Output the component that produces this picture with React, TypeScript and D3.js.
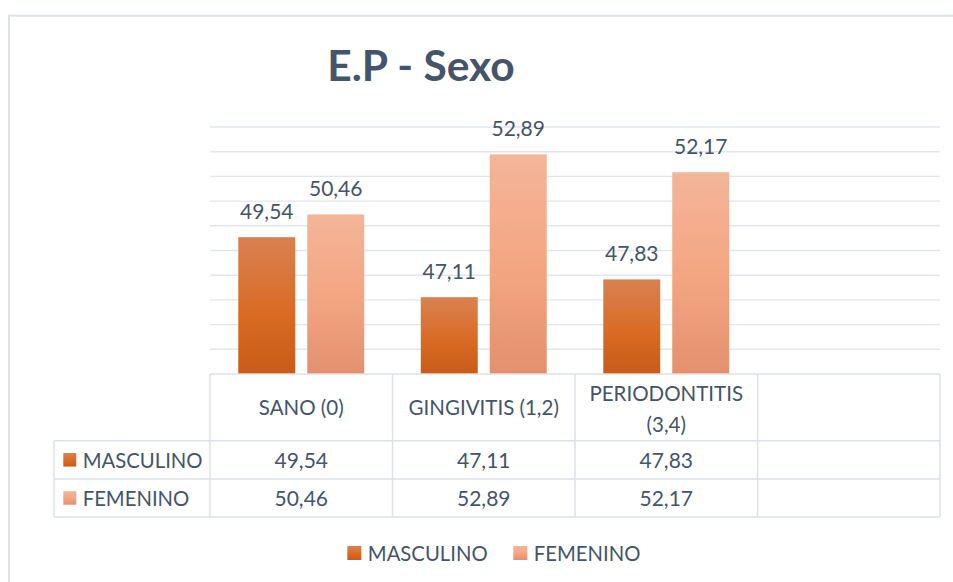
import React from "react";
import * as d3 from "d3";

const categories = ["SANO (0)", "GINGIVITIS (1,2)", "PERIODONTITIS (3,4)", ""];
const headerLines = [["SANO (0)"], ["GINGIVITIS (1,2)"], ["PERIODONTITIS", "(3,4)"], []];
const seriesNames = ["MASCULINO", "FEMENINO"];
const masculino = [49.54, 47.11, 47.83];
const femenino = [50.46, 52.89, 52.17];
const yTicks = [45, 46, 47, 48, 49, 50, 51, 52, 53, 54];

const W = 953;
const H = 582;
const TEXT = "#44546A";
const LINE = "#DDE2E9";
const FONT = "Lato, 'Open Sans', sans-serif";

const fmt = (v: number) => v.toFixed(2).replace(".", ",");

export default function App() {
  const left = 210;
  const right = 940;
  const top = 127;
  const bottom = 374;

  const x0 = d3.scaleBand<string>().domain(categories).range([left, right]).padding(0);
  const x1 = d3
    .scaleBand<string>()
    .domain(seriesNames)
    .range([0, x0.bandwidth()])
    .paddingInner(0.174)
    .paddingOuter(0.41);
  const y = d3.scaleLinear().domain([44, 54]).range([bottom, top]);

  const series = [
    { name: seriesNames[0], values: masculino, grad: "gM" },
    { name: seriesNames[1], values: femenino, grad: "gF" },
  ];

  const tableTop = bottom;
  const headerBottom = 440.7;
  const row1Bottom = 479;
  const row2Bottom = 517;
  const tableLeft = 54;
  const rowBottoms = [row1Bottom, row2Bottom];
  const rowTops = [headerBottom, row1Bottom];

  return (
    <div style={{ position: "fixed", left: 0, top: 0, width: W, height: H, background: "#fff" }}>
      <svg width={W} height={H} style={{ display: "block" }} fontFamily={FONT}>
        <defs>
          <linearGradient id="gM" x1="0" y1="0" x2="0" y2="1">
            <stop offset="0%" stopColor="#D98152" />
            <stop offset="55%" stopColor="#D96B24" />
            <stop offset="100%" stopColor="#C85B17" />
          </linearGradient>
          <linearGradient id="gF" x1="0" y1="0" x2="0" y2="1">
            <stop offset="0%" stopColor="#F4B599" />
            <stop offset="50%" stopColor="#F4A683" />
            <stop offset="100%" stopColor="#E3906F" />
          </linearGradient>
        </defs>
        <rect x={0} y={0} width={W} height={H} fill="#fff" />
        <rect x={9} y={15.7} width={W + 20} height={H + 20} fill="#fff" stroke={LINE} strokeWidth={2} />

        <text x={421} y={81} textAnchor="middle" fontSize={42.5} fontWeight={700} fill={TEXT}>
          E.P - Sexo
        </text>

        {yTicks.map((t) => (
          <line key={t} x1={left} x2={right} y1={y(t)} y2={y(t)} stroke="#E2E6EC" strokeWidth={1.4} />
        ))}

        {series.map((s) =>
          s.values.map((v, i) => {
            const cx = (x0(categories[i]) as number) + (x1(s.name) as number);
            const bw = x1.bandwidth();
            return (
              <g key={s.name + i}>
                <rect x={cx} y={y(v)} width={bw} height={y(44) - y(v)} fill={`url(#${s.grad})`} />
                <text x={cx + bw / 2} y={y(v) - 18} textAnchor="middle" fontSize={21} fill={TEXT}>
                  {fmt(v)}
                </text>
              </g>
            );
          })
        )}

        {/* data table */}
        <g stroke={LINE} strokeWidth={1.5} fill="none">
          <line x1={left} x2={right} y1={tableTop} y2={tableTop} />
          {[headerBottom, row1Bottom, row2Bottom].map((yy) => (
            <line key={yy} x1={tableLeft} x2={right} y1={yy} y2={yy} />
          ))}
          <line x1={tableLeft} x2={tableLeft} y1={headerBottom} y2={row2Bottom} />
          {categories.map((c, i) => (
            <line key={"v" + i} x1={x0(c) as number} x2={x0(c) as number} y1={tableTop} y2={row2Bottom} />
          ))}
          <line x1={right} x2={right} y1={tableTop} y2={row2Bottom} />
        </g>

        {categories.map((c, i) => {
          const cx = (x0(c) as number) + x0.bandwidth() / 2;
          const lines = headerLines[i];
          const baseY = lines.length === 1 ? 415 : 401;
          return (
            <text key={"h" + i} textAnchor="middle" fontSize={20.5} fill={TEXT}>
              {lines.map((l, k) => (
                <tspan key={k} x={cx} y={baseY + k * 31}>
                  {l}
                </tspan>
              ))}
            </text>
          );
        })}

        {series.map((s, r) => {
          const base = rowBottoms[r] - 11;
          const mid = (rowTops[r] + rowBottoms[r]) / 2;
          return (
            <g key={"row" + r}>
              <rect x={63.3} y={mid - 6.8} width={13} height={13.5} fill={`url(#${s.grad})`} />
              <text x={82.7} y={base} fontSize={20.3} fill={TEXT}>
                {s.name}
              </text>
              {s.values.map((v, i) => (
                <text
                  key={i}
                  x={(x0(categories[i]) as number) + x0.bandwidth() / 2}
                  y={base}
                  textAnchor="middle"
                  fontSize={21}
                  fill={TEXT}
                >
                  {fmt(v)}
                </text>
              ))}
            </g>
          );
        })}

        {/* legend */}
        {series.map((s, i) => {
          const lx = [347.3, 513.3][i];
          return (
            <g key={"lg" + i}>
              <rect x={lx} y={546} width={14} height={14} fill={`url(#${s.grad})`} />
              <text x={lx + 20.5} y={561} fontSize={20.3} fill={TEXT}>
                {s.name}
              </text>
            </g>
          );
        })}
      </svg>
    </div>
  );
}
